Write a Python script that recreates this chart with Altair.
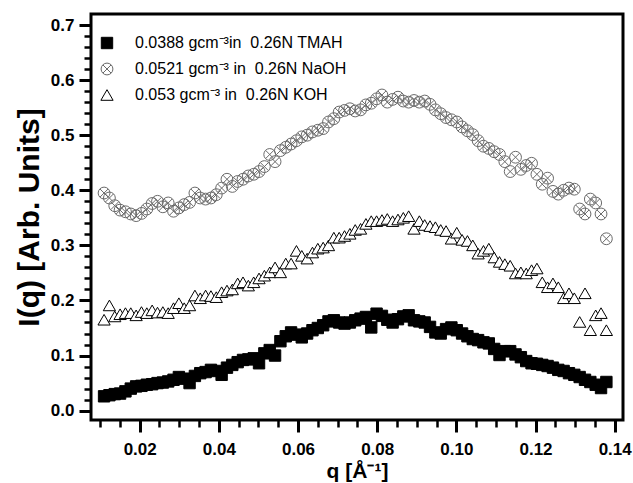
import altair as alt
import pandas as pd

# shared q grid (1/Angstrom)
q = [0.01100, 0.01235, 0.01370, 0.01505, 0.01640, 0.01775, 0.01910, 0.02045, 0.02180, 0.02315,
     0.02450, 0.02585, 0.02720, 0.02855, 0.02990, 0.03125, 0.03260, 0.03395, 0.03530, 0.03665,
     0.03800, 0.03935, 0.04070, 0.04205, 0.04340, 0.04475, 0.04610, 0.04745, 0.04880, 0.05015,
     0.05150, 0.05285, 0.05420, 0.05555, 0.05690, 0.05825, 0.05960, 0.06095, 0.06230, 0.06365,
     0.06500, 0.06635, 0.06770, 0.06905, 0.07040, 0.07175, 0.07310, 0.07445, 0.07580, 0.07715,
     0.07850, 0.07985, 0.08120, 0.08255, 0.08390, 0.08525, 0.08660, 0.08795, 0.08930, 0.09065,
     0.09200, 0.09335, 0.09470, 0.09605, 0.09740, 0.09875, 0.10010, 0.10145, 0.10280, 0.10415,
     0.10550, 0.10685, 0.10820, 0.10955, 0.11090, 0.11225, 0.11360, 0.11495, 0.11630, 0.11765,
     0.11900, 0.12035, 0.12170, 0.12305, 0.12440, 0.12575, 0.12710, 0.12845, 0.12980, 0.13115,
     0.13250, 0.13385, 0.13520, 0.13655, 0.13790]

tmah = [0.026, 0.028, 0.030, 0.031, 0.035, 0.040, 0.044, 0.045, 0.047, 0.048,
        0.050, 0.051, 0.053, 0.056, 0.061, 0.058, 0.050, 0.063, 0.068, 0.070,
        0.074, 0.072, 0.065, 0.078, 0.083, 0.088, 0.092, 0.093, 0.095, 0.086,
        0.104, 0.110, 0.100, 0.126, 0.135, 0.142, 0.138, 0.133, 0.140, 0.146,
        0.150, 0.155, 0.162, 0.164, 0.160, 0.158, 0.160, 0.164, 0.167, 0.170,
        0.151, 0.176, 0.172, 0.165, 0.160, 0.166, 0.171, 0.173, 0.164, 0.162,
        0.160, 0.152, 0.142, 0.140, 0.148, 0.151, 0.146, 0.140, 0.135, 0.130,
        0.128, 0.124, 0.122, 0.112, 0.101, 0.108, 0.108, 0.102, 0.097, 0.090,
        0.086, 0.085, 0.083, 0.081, 0.078, 0.074, 0.072, 0.068, 0.065, 0.061,
        0.056, 0.052, 0.047, 0.041, 0.052]

naoh = [0.395, 0.386, 0.372, 0.364, 0.361, 0.357, 0.354, 0.358, 0.366, 0.376,
        0.380, 0.370, 0.377, 0.362, 0.368, 0.374, 0.378, 0.395, 0.386, 0.384,
        0.386, 0.392, 0.404, 0.420, 0.407, 0.416, 0.420, 0.426, 0.429, 0.434,
        0.443, 0.465, 0.452, 0.472, 0.478, 0.484, 0.490, 0.497, 0.500, 0.506,
        0.509, 0.512, 0.524, 0.530, 0.542, 0.545, 0.548, 0.544, 0.546, 0.555,
        0.558, 0.566, 0.573, 0.560, 0.565, 0.569, 0.562, 0.560, 0.563, 0.560,
        0.562, 0.556, 0.546, 0.539, 0.532, 0.528, 0.524, 0.515, 0.508, 0.501,
        0.490, 0.480, 0.476, 0.470, 0.465, 0.452, 0.434, 0.460, 0.438, 0.445,
        0.449, 0.429, 0.411, 0.422, 0.398, 0.393, 0.400, 0.404, 0.402, 0.366,
        0.357, 0.384, 0.377, 0.357, 0.312]

koh = [0.165, 0.191, 0.171, 0.175, 0.177, 0.177, 0.173, 0.179, 0.177, 0.182,
       0.178, 0.179, 0.177, 0.186, 0.195, 0.186, 0.191, 0.209, 0.204, 0.209,
       0.208, 0.206, 0.215, 0.218, 0.220, 0.231, 0.233, 0.227, 0.233, 0.240,
       0.245, 0.251, 0.260, 0.251, 0.267, 0.267, 0.290, 0.281, 0.276, 0.287,
       0.294, 0.296, 0.300, 0.314, 0.314, 0.317, 0.321, 0.328, 0.330, 0.339,
       0.344, 0.344, 0.346, 0.348, 0.344, 0.347, 0.350, 0.353, 0.330, 0.344,
       0.337, 0.335, 0.333, 0.328, 0.326, 0.312, 0.323, 0.310, 0.308, 0.300,
       0.285, 0.290, 0.294, 0.278, 0.270, 0.266, 0.263, 0.249, 0.251, 0.249,
       0.255, 0.258, 0.233, 0.224, 0.231, 0.224, 0.204, 0.213, 0.204, 0.161,
       0.213, 0.146, 0.173, 0.177, 0.146]

series_names = [
    "0.0388 gcm\u207b\u00b3in\u00a0 0.26N TMAH",
    "0.0521 gcm\u207b\u00b3 in\u00a0 0.26N NaOH",
    "0.053 gcm\u207b\u00b3 in\u00a0 0.26N KOH",
]

x_major = [0.02, 0.04, 0.06, 0.08, 0.10, 0.12, 0.14]
x_minor = [0.01, 0.015, 0.025, 0.03, 0.035, 0.045, 0.05, 0.055, 0.065, 0.07, 0.075,
           0.085, 0.09, 0.095, 0.105, 0.11, 0.115, 0.125, 0.13, 0.135]
y_major = [0.0, 0.1, 0.2, 0.3, 0.4, 0.5, 0.6, 0.7]
y_minor = [0.02, 0.04, 0.06, 0.08, 0.12, 0.14, 0.16, 0.18, 0.22, 0.24, 0.26, 0.28,
           0.32, 0.34, 0.36, 0.38, 0.42, 0.44, 0.46, 0.48, 0.52, 0.54, 0.56, 0.58,
           0.62, 0.64, 0.66, 0.68]

rows = []
for name, vals in zip(series_names, [tmah, naoh, koh]):
    for qq, v in zip(q, vals):
        rows.append({"q": qq, "I": v, "series": name})
df = pd.DataFrame(rows)

FONT = "Liberation Sans"
xscale = alt.Scale(domain=[0.0077, 0.1421], nice=False, zero=False)
yscale = alt.Scale(domain=[-0.017, 0.72], nice=False, zero=False)

circle_x = ("M-1,0A1,1,0,1,1,1,0A1,1,0,1,1,-1,0Z"
            "M-0.68,-0.68L0.68,0.68M-0.68,0.68L0.68,-0.68")

base = alt.Chart(df)

minor = base.mark_point(opacity=0, size=1).encode(
    x=alt.X("q:Q", scale=xscale, axis=alt.Axis(
        values=x_minor, orient="bottom", labels=False, title=None, domain=False,
        grid=False, tickSize=7, tickWidth=2.5, tickColor="black")),
    y=alt.Y("I:Q", scale=yscale, axis=alt.Axis(
        values=y_minor, orient="left", labels=False, title=None, domain=False,
        grid=False, tickSize=7, tickWidth=2.5, tickColor="black")),
)

pts = base.mark_point(filled=False, opacity=1).encode(
    x=alt.X("q:Q", scale=xscale, axis=alt.Axis(
        values=x_major, orient="bottom", format=".2f", title="q [\u00c5\u207b\u00b9]",
        domain=False, grid=False, tickSize=12, tickWidth=3, tickColor="black",
        labelFont=FONT, labelFontSize=17, labelFontWeight="bold", labelColor="black",
        labelPadding=9, titleFont=FONT, titleFontSize=21, titleFontWeight="bold",
        titleColor="black", titlePadding=3)),
    y=alt.Y("I:Q", scale=yscale, axis=alt.Axis(
        values=y_major, orient="left", format=".1f", title="I(q) [Arb. Units]",
        domain=False, grid=False, tickSize=12, tickWidth=3, tickColor="black",
        labelFont=FONT, labelFontSize=17, labelFontWeight="bold", labelColor="black",
        labelPadding=5, titleFont=FONT, titleFontSize=30, titleFontWeight="bold",
        titleColor="black", titlePadding=6)),
    shape=alt.Shape("series:N", scale=alt.Scale(domain=series_names,
                    range=["square", circle_x, "triangle-up"]),
                    legend=alt.Legend(title=None, orient="none", legendX=8, legendY=21,
                                      labelFont=FONT, labelFontSize=16, labelColor="black",
                                      labelOffset=20, rowPadding=10, padding=0,
                                      labelLimit=400)),
    stroke=alt.Stroke("series:N", scale=alt.Scale(domain=series_names,
                      range=["black", "#6a6a6a", "black"]), legend=alt.Legend(title=None)),
    fill=alt.Fill("series:N", scale=alt.Scale(domain=series_names,
                  range=["black", "transparent", "white"]), legend=alt.Legend(title=None)),
    size=alt.Size("series:N", scale=alt.Scale(domain=series_names,
                  range=[130, 150, 200]), legend=alt.Legend(title=None)),
    strokeWidth=alt.StrokeWidth("series:N", scale=alt.Scale(domain=series_names,
                  range=[1, 1, 1.8]), legend=alt.Legend(title=None)),
    order=alt.Order("q:Q"),
)

chart = alt.layer(minor, pts).resolve_axis(x="independent", y="independent").properties(
    width=532, height=406,
    autosize=alt.AutoSizeParams(type="none"),
    padding={"left": 91, "top": 14, "right": 10, "bottom": 63},
    background="white",
).configure_view(stroke="black", strokeWidth=3)

chart.save("out.html", embed_options={"renderer": "svg", "actions": False})
